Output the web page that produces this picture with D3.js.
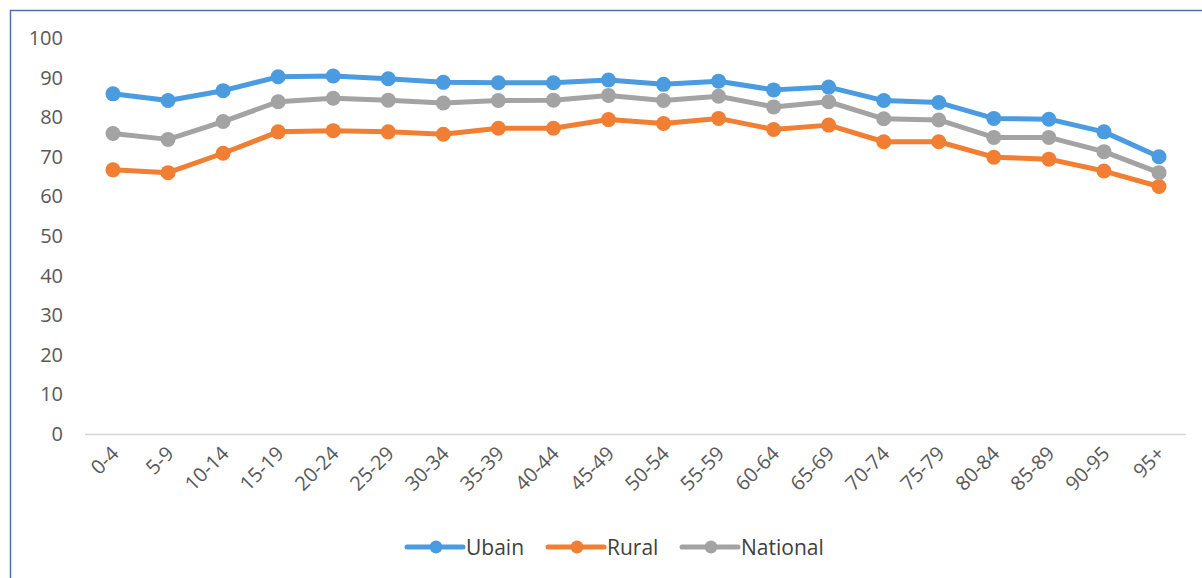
<!DOCTYPE html>
<html><head><meta charset="utf-8">
<script src="https://cdn.jsdelivr.net/npm/d3@7/dist/d3.min.js"></script>
<style>body{margin:0;background:#fff;}svg{display:block;}</style>
</head><body>
<svg id="c" width="1202" height="578"></svg>
<script>
const categories = ["0-4","5-9","10-14","15-19","20-24","25-29","30-34","35-39","40-44","45-49","50-54","55-59","60-64","65-69","70-74","75-79","80-84","85-89","90-95","95+"];
const urban    = [85.9,84.2,86.7,90.2,90.4,89.7,88.8,88.7,88.7,89.4,88.3,89.1,86.9,87.6,84.2,83.7,79.7,79.5,76.3,70.0];
const rural    = [66.7,66.0,70.9,76.3,76.6,76.3,75.7,77.2,77.2,79.4,78.4,79.7,76.9,78.0,73.8,73.8,69.9,69.4,66.4,62.5];
const national = [75.9,74.4,78.9,83.9,84.8,84.3,83.6,84.2,84.3,85.5,84.2,85.3,82.6,83.9,79.6,79.3,74.9,74.9,71.3,66.0];
const yTicks = [0,10,20,30,40,50,60,70,80,90,100];
const seriesNames = ["Ubain","Rural","National"];
const seriesColors = ["#4a9be0","#f07f33","#a3a3a3"];
const seriesData = [urban, rural, national];

const svg = d3.select("#c");
const font = "'Open Sans', 'Liberation Sans', sans-serif";

// frame
svg.append("path").attr("d","M10.5,578 L10.5,10.5 L1202,10.5")
  .attr("fill","none").attr("stroke","#4f72a8").attr("stroke-width",1.5);

const x = d3.scalePoint().domain(categories).range([113,1159]);
const y = d3.scaleLinear().domain([0,100]).range([434,38]);

// y labels
const yAxis = svg.append("g").attr("transform","translate(63,0)")
  .call(d3.axisLeft(y).tickValues(yTicks).tickSize(0).tickPadding(0));
yAxis.select(".domain").remove();
yAxis.selectAll("text").attr("font-family",font).attr("font-size",20).attr("fill","#595959");

// x axis line
svg.append("line").attr("x1",85).attr("x2",1186).attr("y1",434.5).attr("y2",434.5)
  .attr("stroke","#d5d5d5").attr("stroke-width",1.5);

// x labels
svg.append("g").selectAll("text").data(categories).join("text")
  .attr("transform",d=>`translate(${x(d)+7},${455}) rotate(-45)`)
  .attr("text-anchor","end")
  .attr("font-family",font).attr("font-size",20).attr("fill","#595959")
  .text(d=>d);

const line = d3.line().x((d,i)=>x(categories[i])).y(d=>y(d));
seriesData.forEach((data,k)=>{
  const g = svg.append("g");
  g.append("path").datum(data).attr("d",line).attr("fill","none")
    .attr("stroke",seriesColors[k]).attr("stroke-width",5).attr("stroke-linejoin","round");
  g.selectAll("circle").data(data).join("circle")
    .attr("cx",(d,i)=>x(categories[i])).attr("cy",d=>y(d)).attr("r",7.5)
    .attr("fill",seriesColors[k]);
});

// legend
const legX = [407,548,682];
const lg = svg.append("g");
seriesNames.forEach((n,k)=>{
  const g = lg.append("g").attr("transform",`translate(${legX[k]},547)`);
  g.append("line").attr("x1",0).attr("x2",56).attr("stroke",seriesColors[k]).attr("stroke-width",5).attr("stroke-linecap","round");
  g.append("circle").attr("cx",29).attr("r",6.5).attr("fill",seriesColors[k]);
  g.append("text").attr("x",59).attr("y",7.5).attr("font-family",font).attr("font-size",21)
    .attr("fill","#404040").text(n);
});
</script>
</body></html>
